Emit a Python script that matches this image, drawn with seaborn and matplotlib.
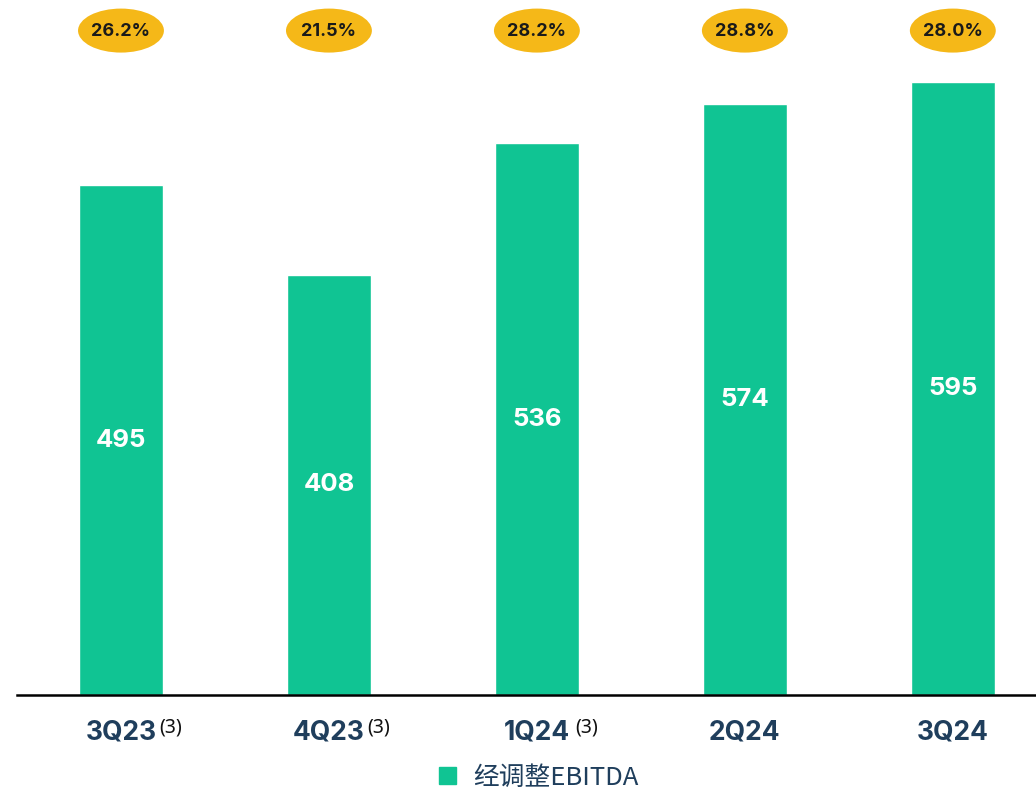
import matplotlib
matplotlib.use("Agg")
import matplotlib.pyplot as plt
import seaborn as sns
import pandas as pd
from matplotlib.patches import Rectangle, Ellipse

# data
quarters = ["3Q23", "4Q23", "1Q24", "2Q24", "3Q24"]
notes = ["(3)", "(3)", "(3)", "", ""]
ebitda = [495, 408, 536, 574, 595]
margins = ["26.2%", "21.5%", "28.2%", "28.8%", "28.0%"]

sns.set_style("white")
plt.rcParams["font.family"] = ["Noto Sans", "Noto Sans CJK SC", "DejaVu Sans"]
BOLD = ["Inter", "DejaVu Sans"]

BAR = "#10C493"
GOLD = "#F5B818"
NAVY = "#1F3E5C"

df = pd.DataFrame({"quarter": quarters, "ebitda": ebitda})

fig = plt.figure(figsize=(10.36, 7.91), dpi=100)
ax = fig.add_axes([17 / 1036, 96 / 791, 1019 / 1036, 695 / 791])

sns.barplot(data=df, x="quarter", y="ebitda", color=BAR, width=0.404,
            saturation=1, ax=ax)

ax.set_xlim(-0.5, 4.4)
ax.set_ylim(0, 675)
for s in ["top", "right", "left"]:
    ax.spines[s].set_visible(False)
ax.spines["bottom"].set_color("black")
ax.spines["bottom"].set_linewidth(1.8)
ax.set_yticks([])
ax.set_xlabel("")
ax.set_ylabel("")
ax.set_xticks(range(len(quarters)))
ax.set_xticklabels([])
ax.tick_params(axis="x", length=0)

# values inside bars
for i, v in enumerate(ebitda):
    ax.text(i, v / 2, str(v), ha="center", va="center", color="white",
            fontsize=18.5, fontweight="bold", family=BOLD)

# margin ellipses above bars
xt = ax.get_xaxis_transform()
for i, m in enumerate(margins):
    ax.add_patch(Ellipse((i, 0.956), 0.413, 0.0633, transform=xt,
                         fc=GOLD, ec="none", clip_on=False))
    ax.text(i, 0.955, m, transform=xt, ha="center", va="center",
            fontsize=13, fontweight="bold", color="#1A1A1A", family=BOLD)

# category labels with footnote marks
for i, (q, n) in enumerate(zip(quarters, notes)):
    ax.text(i, -0.0647, q, transform=xt, ha="center", va="baseline",
            fontsize=19, fontweight="bold", color=NAVY, family=BOLD,
            clip_on=False)
    if n:
        ax.text(i + 0.185, -0.0468, n, transform=xt, ha="left", va="center",
                fontsize=14, color="#111111", clip_on=False)

# legend
ax.legend(handles=[Rectangle((0, 0), 1, 1, color=BAR)], labels=["经调整EBITDA"],
          loc="center", bbox_to_anchor=(0.512, -0.119), frameon=False,
          prop={"family": ["Noto Sans CJK SC"], "size": 18.5},
          handlelength=0.66, handleheight=0.66, labelcolor=NAVY,
          handletextpad=0.65)

fig.savefig("out.png", dpi=100)
